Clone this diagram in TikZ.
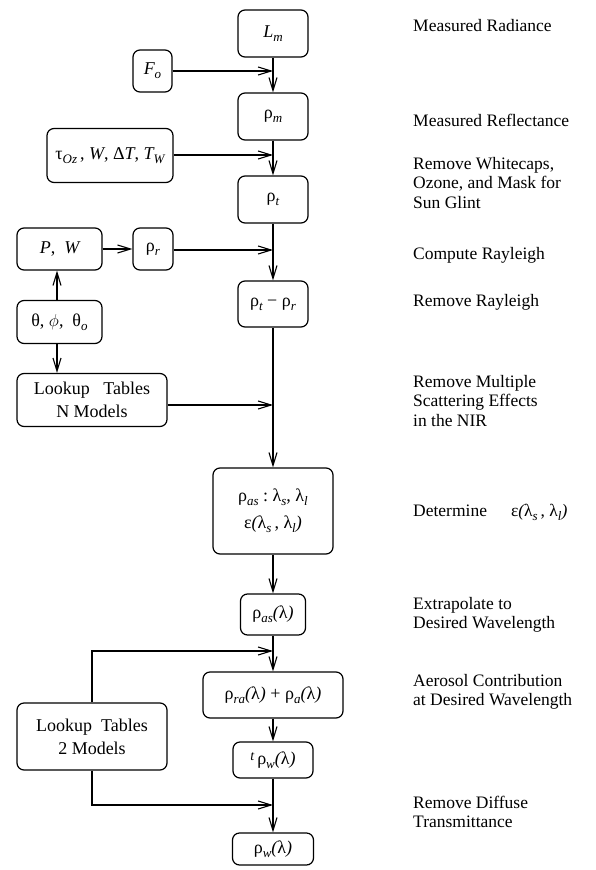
\documentclass[tikz,border=0pt]{standalone}
\usepackage{fontspec}
\setmainfont{Liberation Serif}
\usetikzlibrary{arrows.meta}
\newcommand\sbx[1]{\raisebox{-0.5ex}{\fontsize{13}{13}\selectfont\itshape #1}}
\newcommand\itx[1]{{\itshape #1}}
\begin{document}
\begin{tikzpicture}[x=1pt,y=-1pt,
  box/.style={draw,line width=1.2pt,rounded corners=7pt,align=center,inner sep=0pt,
    font=\fontsize{18}{21}\selectfont},
  arr/.style={line width=1.1pt,-{Straight Barb[length=13pt,width=8pt,line width=1.1pt]}},
  lab/.style={anchor=west,align=left,inner sep=0pt,font=\fontsize{17.5}{19.5}\selectfont}]
\useasboundingbox (0,0) rectangle (595,870);
% main column
\node[box,minimum width=70pt,minimum height=47pt] (Lm) at (273,33.5) {\itx{L}\sbx{m}};
\node[box,minimum width=70pt,minimum height=47pt] (rm) at (273,116.5) {ρ\sbx{m}};
\node[box,minimum width=70pt,minimum height=47pt] (rt) at (273,199.5) {ρ\sbx{t}};
\node[box,minimum width=70pt,minimum height=46pt] (rtr) at (273,304) {ρ\sbx{t} − ρ\sbx{r}};
\node[box,minimum width=120pt,minimum height=86pt] (ras) at (273,511) {ρ\sbx{as}\ :\ λ\sbx{s}, λ\sbx{l}\\[6pt] ε\itx{(}λ\sbx{s}\,, λ\sbx{l}\itx{)}};
\node[box,minimum width=65pt,minimum height=41pt] (ras2) at (273,614.5) {ρ\sbx{as}\itx{(}λ\itx{)}};
\node[box,minimum width=140pt,minimum height=46pt] (rara) at (273,695) {ρ\sbx{ra}\itx{(}λ\itx{)} + ρ\sbx{a}\itx{(}λ\itx{)}};
\node[box,minimum width=80pt,minimum height=36pt] (trw) at (273,760) {\raisebox{0.4ex}{\fontsize{14}{14}\selectfont\itshape t}\,ρ\sbx{w}\itx{(}λ\itx{)}};
\node[box,minimum width=81pt,minimum height=32pt] (rw) at (273,849) {ρ\sbx{w}\itx{(}λ\itx{)}};
% left inputs
\node[box,minimum width=39pt,minimum height=42pt] (Fo) at (152.5,71) {\itx{F}\sbx{o}};
\node[box,minimum width=126pt,minimum height=54pt] (tau) at (110,155.5) {τ\sbx{Oz}\,, \itx{W}, Δ\itx{T}, \itx{T}\sbx{W}};
\node[box,minimum width=85pt,minimum height=42pt] (PW) at (59.5,249) {\itx{P},\ \ \itx{W}};
\node[box,minimum width=40pt,minimum height=42pt] (rr) at (153,249) {ρ\sbx{r}};
\node[box,minimum width=85pt,minimum height=43pt] (th) at (59.5,322) {θ, $\phi$,\ \ θ\sbx{o}};
\node[box,minimum width=150pt,minimum height=53pt] (LN) at (92,400) {Lookup\ \ \ Tables\\[2pt] N Models};
\node[box,minimum width=150pt,minimum height=67pt] (L2) at (92,736.5) {Lookup\ \ Tables\\[2pt] 2 Models};
% junction coordinates
\coordinate (jF) at (273,71);
\coordinate (jT) at (273,155);
\coordinate (jR) at (273,250);
\coordinate (jN) at (273,405);
\coordinate (aU) at (92,651);
\coordinate (jU) at (273,651);
\coordinate (aD) at (92,805);
\coordinate (jD) at (273,805);
% vertical main arrows
\draw[arr] (Lm) -- (rm);
\draw[arr] (rm) -- (rt);
\draw[arr] (rt) -- (rtr);
\draw[arr] (rtr) -- (ras);
\draw[arr] (ras) -- (ras2);
\draw[arr] (ras2) -- (rara);
\draw[arr] (rara) -- (trw);
\draw[arr] (trw) -- (rw);
% horizontal inputs
\draw[arr] (Fo.east) -- (jF);
\draw[arr] (tau.east |- jT) -- (jT);
\draw[arr] (PW) -- (rr);
\draw[arr] (rr.east |- jR) -- (jR);
\draw[arr] (LN.east |- jN) -- (jN);
\draw[arr] (th.north -| 57,0) -- (PW.south -| 57,0);
\draw[arr] (th.south -| 57,0) -- (LN.north -| 57,0);
\draw[arr] (L2.north) -- (aU) -- (jU);
\draw[arr] (L2.south) -- (aD) -- (jD);
% right labels
\node[lab] (t1) at (413,26) {Measured Radiance};
\node[lab] (t2) at (413,120) {Measured Reflectance};
\node[lab] (t3) at (413,183) {Remove Whitecaps,\\Ozone, and Mask for\\Sun Glint};
\node[lab] (t4) at (413,255) {Compute Rayleigh};
\node[lab] (t5) at (413,302) {Remove Rayleigh};
\node[lab] (t6) at (413,401) {Remove Multiple\\Scattering Effects\\in the NIR};
\node[lab] (t7) at (413,512) {Determine\hspace{24pt}ε\itx{(}λ\sbx{s}\,, λ\sbx{l}\itx{)}};
\node[lab] (t8) at (413,615) {Extrapolate to\\Desired Wavelength};
\node[lab] (t9) at (413,692) {Aerosol Contribution\\at Desired Wavelength};
\node[lab] (t10) at (413,812) {Remove Diffuse\\Transmittance};
\end{tikzpicture}
\end{document}
